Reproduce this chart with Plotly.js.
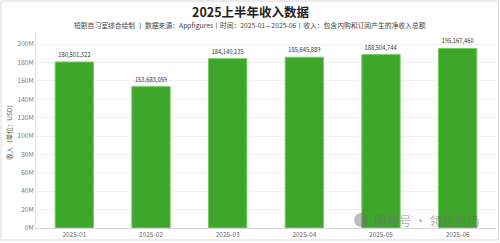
<!DOCTYPE html>
<html>
<head>
<meta charset="utf-8">
<script src="https://cdn.plot.ly/plotly-3.0.1.min.js"></script>
<style>html,body{margin:0;padding:0;background:#fff;}#chart{width:500px;height:243px;}</style>
</head>
<body>
<div id="chart"></div>
<script>
const months = ['2025-01','2025-02','2025-03','2025-04','2025-05','2025-06'];
const revenue = [180501322, 153683059, 184140135, 185645889, 188504744, 195167460];
const yTickVals = [0, 20e6, 40e6, 60e6, 80e6, 100e6, 120e6, 140e6, 160e6, 180e6, 200e6];
const yTickText = ['0M','20M','40M','60M','80M','100M','120M','140M','160M','180M','200M'];
const chartTitle = '2025上半年收入数据';
const subTitle = '短剧自习室综合绘制 丨 数据来源：Appfigures丨时间：2025-01—2025-06丨收入：包含内购和订阅产生的净收入总额';
const yTitle = '收入（单位：USD）';
const watermark = '服务号 · 领航剧场';

const FONT = '"Noto Sans CJK SC", "Noto Sans", sans-serif';

const trace = {
  type: 'bar',
  x: months,
  y: revenue,
  text: revenue.map(v => v.toLocaleString('en-US')),
  textposition: 'outside',
  cliponaxis: false,
  textfont: {family: FONT, size: 5.8, color: '#333'},
  marker: {color: '#3ea62b', line: {color: '#74d062', width: 1}},
  hoverinfo: 'none'
};

const layout = {
  width: 500, height: 243,
  margin: {l: 36, r: 4, t: 33, b: 15, pad: 0},
  paper_bgcolor: '#fff', plot_bgcolor: '#fff',
  font: {family: FONT, color: '#666'},
  bargap: 0.5,
  showlegend: false,
  xaxis: {
    type: 'category',
    tickfont: {family: FONT, size: 6.5, color: '#666'},
    showgrid: false,
    showline: true, linecolor: '#d6d6d6', linewidth: 1,
    ticks: '', ticklen: 0,
    automargin: false
  },
  yaxis: {
    range: [0, 212e6],
    tickvals: yTickVals, ticktext: yTickText,
    tickfont: {family: FONT, size: 6.5, color: '#777'},
    showgrid: true, gridcolor: '#f0f0f0', gridwidth: 1,
    zeroline: false,
    showline: true, linecolor: '#e6e6e6', linewidth: 1,
    ticks: '', ticklen: 0,
    title: {text: yTitle, font: {family: FONT, size: 6.5, color: '#555'}, standoff: 4},
    automargin: false
  },
  annotations: [
    {text: '<b>' + chartTitle + '</b>', xref: 'paper', yref: 'paper', x: (250-36)/460, y: (228-12)/195,
     xanchor: 'center', yanchor: 'middle', showarrow: false, font: {family: FONT, size: 12.5, color: '#222'}},
    {text: subTitle, xref: 'paper', yref: 'paper', x: (250-36)/460, y: (228-25)/195,
     xanchor: 'center', yanchor: 'middle', showarrow: false, font: {family: FONT, size: 6.8, color: '#444'}},
    {text: watermark, xref: 'paper', yref: 'paper', x: (372-36)/460, y: (228-220)/195,
     xanchor: 'left', yanchor: 'middle', showarrow: false, font: {family: FONT, size: 12.5, color: 'rgba(110,110,110,0.55)'}}
  ],
  shapes: [
    {type: 'rect', xref: 'paper', yref: 'paper', x0: (1-36)/460, x1: (498.5-36)/460, y0: (228-240)/195, y1: (228-1)/195,
     line: {color: '#d8d8d8', width: 1}, fillcolor: 'rgba(0,0,0,0)', layer: 'above'},
    {type: 'circle', xref: 'paper', yref: 'paper', x0: (354-36)/460, x1: (368-36)/460, y0: (228-227)/195, y1: (228-213)/195,
     line: {width: 0}, fillcolor: 'rgba(110,110,110,0.45)', layer: 'above'}
  ]
};

Plotly.newPlot('chart', [trace], layout, {staticPlot: true, displayModeBar: false});
</script>
</body>
</html>
